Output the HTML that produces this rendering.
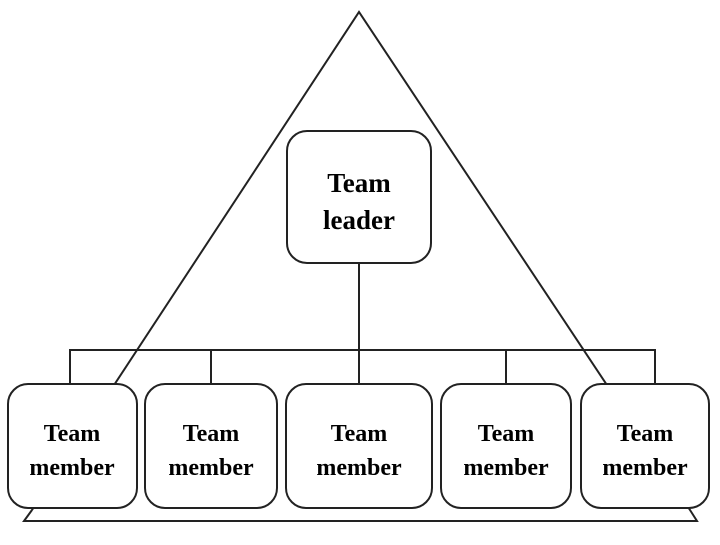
<!DOCTYPE html>
<html><head><style>body{margin:0;background:#fff}</style></head><body>
<svg width="720" height="540" xmlns="http://www.w3.org/2000/svg" font-family="Liberation Serif, serif" font-weight="bold">
<g stroke="#222" stroke-width="2" fill="none">
<polyline points="32,510 359,12 690,510 697,521 24,521 32,510"/>
<polyline points="70,383 70,350 655,350 655,383"/>
<line x1="211" y1="350" x2="211" y2="383"/>
<line x1="359" y1="263" x2="359" y2="383"/>
<line x1="506" y1="350" x2="506" y2="383"/>
</g>
<g stroke="#222" stroke-width="2" fill="#fff">
<rect x="287" y="131" width="144" height="132" rx="20"/>
<rect x="8" y="384" width="129" height="124" rx="20"/>
<rect x="145" y="384" width="132" height="124" rx="20"/>
<rect x="286" y="384" width="146" height="124" rx="20"/>
<rect x="441" y="384" width="130" height="124" rx="20"/>
<rect x="581" y="384" width="128" height="124" rx="20"/>
</g>
<g font-size="27" text-anchor="middle" fill="#000">
<text x="359" y="192">Team</text><text x="359" y="229">leader</text>
</g>
<g font-size="24" text-anchor="middle" fill="#000">
<text x="72" y="441">Team</text><text x="72" y="475">member</text>
<text x="211" y="441">Team</text><text x="211" y="475">member</text>
<text x="359" y="441">Team</text><text x="359" y="475">member</text>
<text x="506" y="441">Team</text><text x="506" y="475">member</text>
<text x="645" y="441">Team</text><text x="645" y="475">member</text>
</g>
</svg>
</body></html>
